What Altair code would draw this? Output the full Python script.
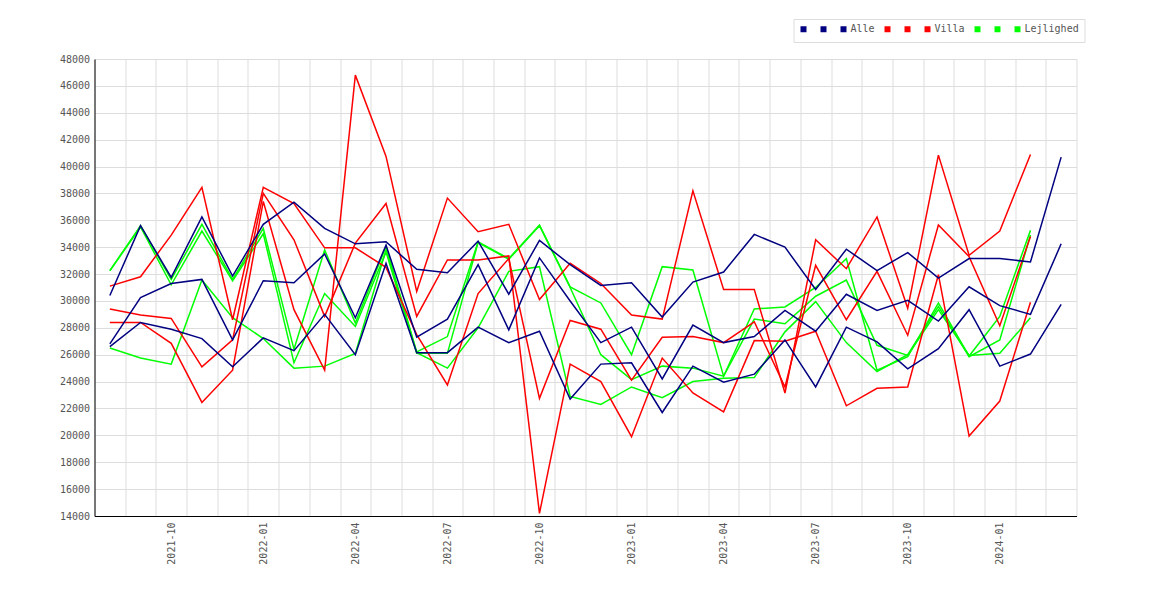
import altair as alt
import pandas as pd

months = [
    "2021-08", "2021-09", "2021-10", "2021-11", "2021-12",
    "2022-01", "2022-02", "2022-03", "2022-04", "2022-05", "2022-06",
    "2022-07", "2022-08", "2022-09", "2022-10", "2022-11", "2022-12",
    "2023-01", "2023-02", "2023-03", "2023-04", "2023-05", "2023-06",
    "2023-07", "2023-08", "2023-09", "2023-10", "2023-11", "2023-12",
    "2024-01", "2024-02", "2024-03",
]

alle_1 = [30400, 35600, 31750, 36250, 31850, 35700, 37350, 35400, 34250, 34400, 32350,
          32100, 34450, 30500, 34500, 32700, 31150, 31350, 28800, 31400, 32150, 34950,
          34000, 30850, 33850, 32250, 33600, 31700, 33150, 33150, 32900, 40700]
alle_2 = [26800, 30250, 31300, 31600, 27100, 31500, 31350, 33500, 28750, 34150, 27300,
          28650, 32700, 27850, 33200, 30000, 26900, 28050, 24200, 28200, 26900, 27350,
          29300, 27750, 30500, 29300, 30050, 28500, 31050, 29650, 29000, 34250]
alle_3 = [26600, 28400, 27900, 27200, 25100, 27250, 26300, 29000, 26000, 32800, 26150,
          26150, 28050, 26900, 27750, 22700, 25300, 25400, 21700, 25150, 23950, 24550,
          27100, 23600, 28050, 26950, 24950, 26450, 29350, 25150, 26050, 29750]

villa_1 = [31100, 31800, 34900, 38450, 28600, 38450, 37250, 33950, 33950, 32500, 27500,
           23750, 30550, 33150, 22750, 28550, 27900, 24100, 27300, 27350, 26900, 28450,
           23600, 32650, 28600, 32200, 27450, 35650, 33300, 28150, 34800]
villa_2 = [29400, 28950, 28700, 25100, 27100, 38000, 34550, 28850, 34300, 37250, 28850,
           33050, 33050, 33350, 14200, 25300, 24000, 19900, 25750, 23150, 21750, 27050,
           27000, 27750, 22200, 23500, 23600, 31950, 19950, 22550, 29900]
villa_3 = [28400, 28400, 26850, 22450, 24850, 37400, 29350, 24850, 46800, 40750, 30700,
           37650, 35150, 35700, 30100, 32800, 31300, 28950, 28650, 38200, 30850, 30850,
           23150, 34550, 32400, 36250, 29450, 40850, 33400, 35200, 40900]

lejl_1 = [32250, 35600, 31600, 35700, 31600, 35400, 26400, 33800, 28350, 34050, 26200,
          27350, 34400, 33150, 35650, 31050, 29850, 26000, 32550, 32300, 24400, 29400,
          29550, 31000, 33150, 24850, 25850, 29850, 25900, 28850, 35250]
lejl_2 = [32250, 35500, 31200, 35200, 31500, 35000, 25400, 30550, 28100, 33650, 26100,
          26100, 34350, 33100, 35600, 31000, 26000, 24150, 25150, 25000, 24400, 28650,
          28300, 30350, 31550, 26700, 25950, 29350, 25950, 26100, 28750]
lejl_3 = [26500, 25750, 25300, 31550, 28750, 27200, 25000, 25150, 26100, 33800, 26150,
          25000, 28000, 32200, 32550, 22900, 22300, 23600, 22800, 24000, 24250, 24300,
          27700, 29950, 26900, 24750, 26000, 29600, 25850, 27100, 34900]

series_names = ["Alle#1", "Alle#2", "Alle", "Villa#1", "Villa#2", "Villa",
                "Lejlighed#1", "Lejlighed#2", "Lejlighed"]
series_colors = ["#000080", "#000080", "#000080", "#ff0000", "#ff0000", "#ff0000",
                 "#00ff00", "#00ff00", "#00ff00"]

# drawing order: Lejlighed first, Alle last (on top)
series_data = [
    ("Lejlighed#1", lejl_1), ("Lejlighed#2", lejl_2), ("Lejlighed", lejl_3),
    ("Villa#1", villa_1), ("Villa#2", villa_2), ("Villa", villa_3),
    ("Alle#1", alle_1), ("Alle#2", alle_2), ("Alle", alle_3),
]

rows = []
for name, vals in series_data:
    for m, v in zip(months, vals):
        rows.append({"series": name, "month": m, "value": v})
df = pd.DataFrame(rows)

FONT = "DejaVu Sans Mono"
TXT = "#555555"
GRID = "#dddddd"

chart = alt.Chart(df).mark_line().encode(
    x=alt.X(
        "month:O",
        scale=alt.Scale(type="band", domain=months, paddingInner=0, paddingOuter=0),
        axis=alt.Axis(
            title=None, labelAngle=270, labelAlign="right", labelBaseline="middle",
            tickBand="extent", ticks=False, grid=True, gridColor=GRID, gridWidth=1,
            domainColor="black", labelPadding=6, labelOverlap=False,
            labelFont=FONT, labelFontSize=10, labelColor=TXT,
            labelExpr="indexof(['01','04','07','10'], substring(datum.value, 5, 7)) >= 0 ? datum.value : ''",
        ),
    ),
    y=alt.Y(
        "value:Q",
        scale=alt.Scale(domain=[14000, 48000], nice=False, zero=False),
        axis=alt.Axis(
            title=None, values=list(range(14000, 48001, 2000)), format="d",
            ticks=False, grid=True, gridColor=GRID, gridWidth=1, domainColor="black",
            labelPadding=5, labelFont=FONT, labelFontSize=10, labelColor=TXT,
            labelOverlap=False, labelFlush=False,
        ),
    ),
    color=alt.Color(
        "series:N",
        scale=alt.Scale(domain=series_names, range=series_colors),
        sort=series_names,
        legend=alt.Legend(
            title=None, orient="none", legendX=699, legendY=-40,
            direction="horizontal", columns=9,
            symbolType="square", symbolSize=9, symbolStrokeWidth=3,
            labelFont=FONT, labelFontSize=10, labelColor=TXT, labelOffset=2,
            columnPadding=4, padding=5, strokeColor=GRID, fillColor="white",
            labelExpr="indexof(datum.label, '#') >= 0 ? '' : datum.label",
        ),
    ),
    strokeWidth=alt.value(1.5),
)

chart = chart.properties(
    width=982, height=457,
    padding={"left": 86.5, "top": 51, "right": 60, "bottom": 60},
    autosize=alt.AutoSizeParams(type="none"),
    background="white",
).configure_view(strokeWidth=0)

chart.save("out.html", embed_options={"renderer": "svg", "actions": False})
